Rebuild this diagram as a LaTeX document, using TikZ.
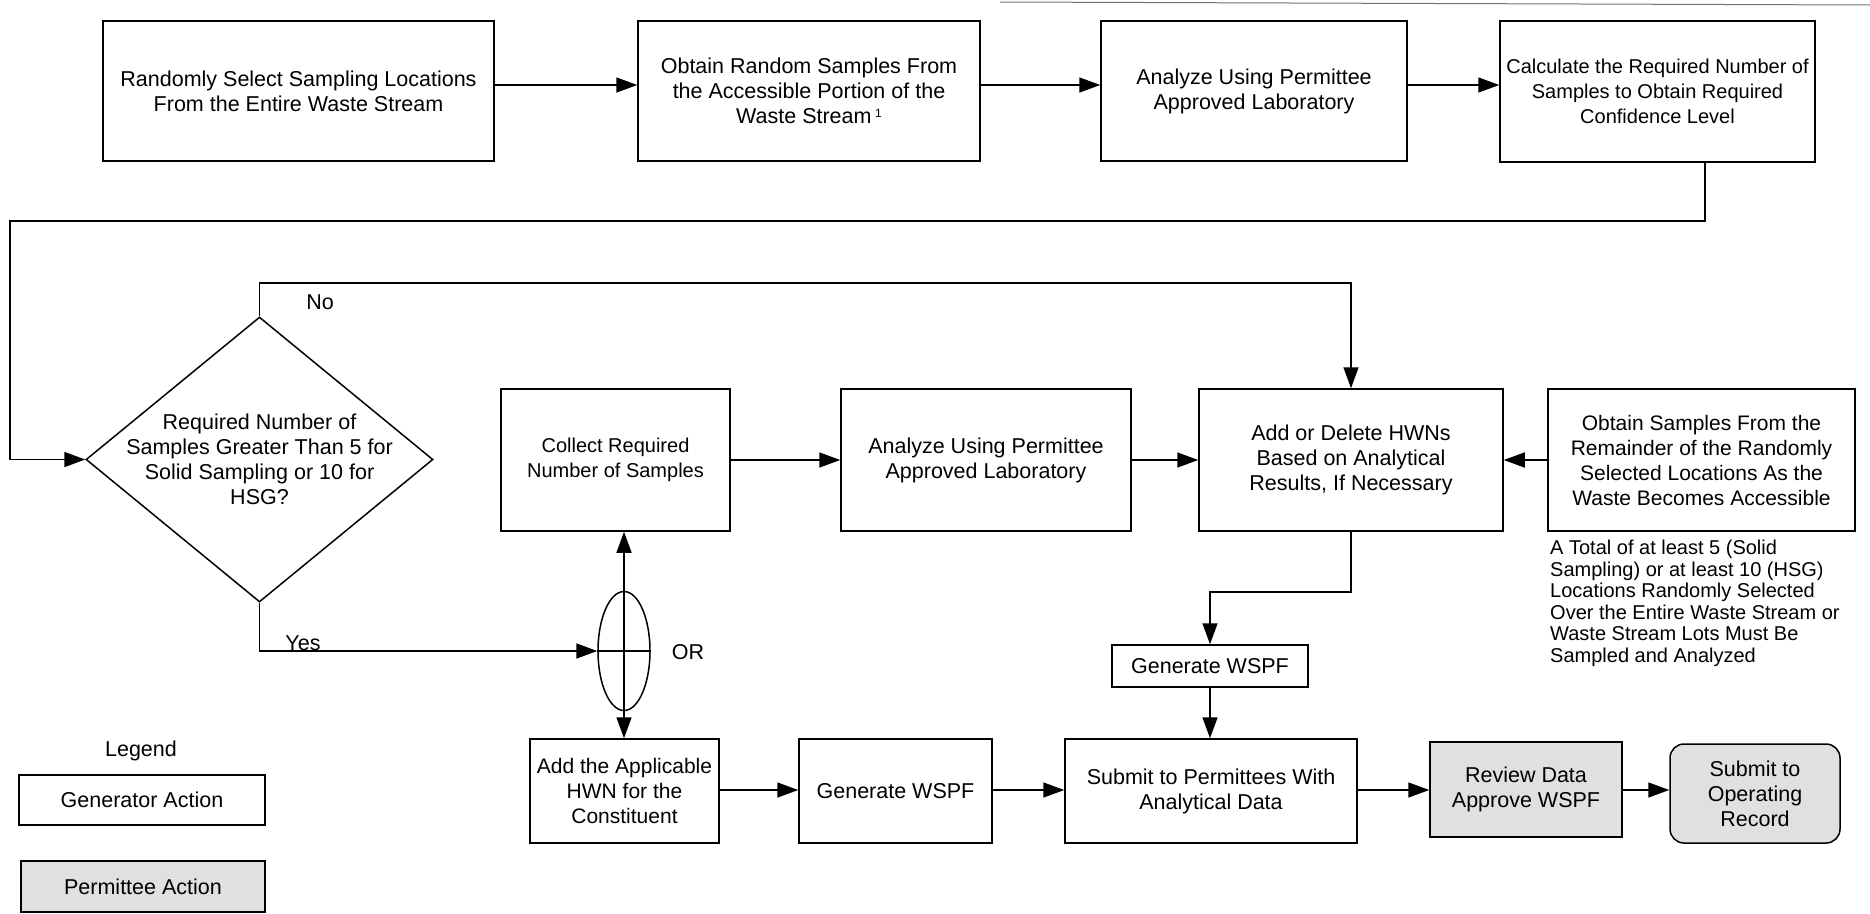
\documentclass[tikz,border=0pt]{standalone}
\usepackage{fontspec}
\setmainfont{Liberation Sans}
\usetikzlibrary{arrows.meta,shapes.geometric,calc}
\begin{document}
\begin{tikzpicture}[x=1pt,y=-1pt,
  every node/.style={font=\fontsize{21.5}{25}\selectfont},
  gen/.style={draw, line width=1.5pt, align=center, inner sep=0pt},
  perm/.style={gen, fill=black!12},
  wire/.style={line width=1.5pt},
  tip/.tip={Triangle[length=21pt,width=15pt]},
  flow/.style={wire, -tip},
  twoway/.style={wire, tip-tip},
  lbl/.style={inner sep=0pt},
]
\useasboundingbox (0,0) rectangle (1870,913);

% page edge remnant at the top right
\draw[black!55, line width=1pt] (1000,2) -- (1870,5);

% top row
\node[gen, minimum width=391pt, minimum height=140pt] (b1) at (298.5,91)
  {Randomly Select Sampling Locations\\From the Entire Waste Stream};
\node[gen, minimum width=342pt, minimum height=140pt] (b2) at (809,91)
  {Obtain Random Samples From\\the Accessible Portion of the\\Waste Stream\,\raisebox{0.55ex}{\fontsize{12}{12}\selectfont 1}};
\node[gen, minimum width=306pt, minimum height=140pt] (b3) at (1254,91)
  {Analyze Using Permittee\\Approved Laboratory};
\node[gen, minimum width=315pt, minimum height=141pt, font=\fontsize{20}{25}\selectfont] (b4) at (1657.5,91.5)
  {Calculate the Required Number of\\Samples to Obtain Required\\Confidence Level};

\coordinate (rowA) at (0,85);
\draw[flow] (b1.east |- rowA) -- (b2.west |- rowA);
\draw[flow] (b2.east |- rowA) -- (b3.west |- rowA);
\draw[flow] (b3.east |- rowA) -- (b4.west |- rowA);

% decision
\node[draw, diamond, line width=1.5pt, minimum width=347pt, minimum height=285pt, inner sep=0pt] (dia) at (259.5,459.5) {};
\node[lbl, align=center] (diatext) at (dia.center)
  {Required Number of\\Samples Greater Than 5 for\\Solid Sampling or 10 for\\HSG?};

\coordinate (loopA) at (1705,221);
\coordinate (loopB) at (10,221);
\draw[flow] (b4.south -| loopA) -- (loopA) -- (loopB) |- (dia.west);

% middle row
\node[gen, minimum width=229pt, minimum height=142pt, font=\fontsize{20}{25}\selectfont] (collect) at (615.5,460)
  {Collect Required\\Number of Samples};
\node[gen, minimum width=290pt, minimum height=142pt] (an2) at (986,460)
  {Analyze Using Permittee\\Approved Laboratory};
\node[gen, minimum width=304pt, minimum height=142pt] (addel) at (1351,460)
  {Add or Delete HWNs\\Based on Analytical\\Results, If Necessary};
\node[gen, minimum width=307pt, minimum height=142pt, font=\fontsize{21}{25}\selectfont] (obtrem) at (1701.5,460)
  {Obtain Samples From the\\Remainder of the Randomly\\Selected Locations As the\\Waste Becomes Accessible};
\node[lbl, anchor=north west, align=left, font=\fontsize{20}{21.5}\selectfont] (note) at (1550,540)
  {A Total of at least 5 (Solid\\Sampling) or at least 10 (HSG)\\Locations Randomly Selected\\Over the Entire Waste Stream or\\Waste Stream Lots Must Be\\Sampled and Analyzed};

\draw[flow] (collect.east) -- (an2.west);
\draw[flow] (an2.east) -- (addel.west);
\draw[flow] (obtrem.west) -- (addel.east);

% No branch
\coordinate (noY) at (0,283);
\draw[flow] (dia.north) -- (dia.north |- noY) -| (addel.north);
\node[lbl] (nolbl) at (320,302) {No};

% Yes branch and OR junction
\node[draw, ellipse, line width=1.5pt, minimum width=52pt, minimum height=119pt, inner sep=0pt] (orel) at (624,651) {};
\draw[wire] (orel.west) -- (orel.east);
\coordinate (yesY) at (0,651);
\draw[flow] (dia.south) -- (dia.south |- yesY) -- (orel.west);
\node[lbl] (yeslbl) at (303,643) {Yes};
\node[lbl] (orlbl) at (688,652) {OR};

% bottom row
\node[gen, minimum width=196pt, minimum height=42pt] (gen1) at (1210,666) {Generate WSPF};
\node[gen, minimum width=189pt, minimum height=104pt, font=\fontsize{21}{25}\selectfont] (addhwn) at (624.5,791)
  {Add the Applicable\\HWN for the\\Constituent};
\node[gen, minimum width=193pt, minimum height=104pt] (gen2) at (895.5,791) {Generate WSPF};
\node[gen, minimum width=292pt, minimum height=104pt] (submit) at (1211,791)
  {Submit to Permittees With\\Analytical Data};
\node[perm, minimum width=192pt, minimum height=95pt] (review) at (1526,789.5)
  {Review Data\\Approve WSPF};
\node[perm, rounded corners=14pt, minimum width=170pt, minimum height=99pt] (record) at (1755,793.5)
  {Submit to\\Operating\\Record};

\draw[twoway] (collect.south -| orel.center) -- (addhwn.north -| orel.center);

\coordinate (splitY) at (0,592);
\draw[flow] (addel.south) -- (addel.south |- splitY) -| (gen1.north);
\draw[flow] (gen1.south) -- (gen1.south |- submit.north);

\coordinate (rowC) at (0,790);
\draw[flow] (addhwn.east |- rowC) -- (gen2.west |- rowC);
\draw[flow] (gen2.east |- rowC) -- (submit.west |- rowC);
\draw[flow] (submit.east |- rowC) -- (review.west |- rowC);
\draw[flow] (review.east |- rowC) -- (record.west |- rowC);

% legend
\node[lbl] (legend) at (141,751) {Legend};
\node[gen, minimum width=246pt, minimum height=50pt] (leggen) at (142,800) {Generator Action};
\node[perm, minimum width=244pt, minimum height=51pt] (legperm) at (143,886.5) {Permittee Action};
\end{tikzpicture}
\end{document}
